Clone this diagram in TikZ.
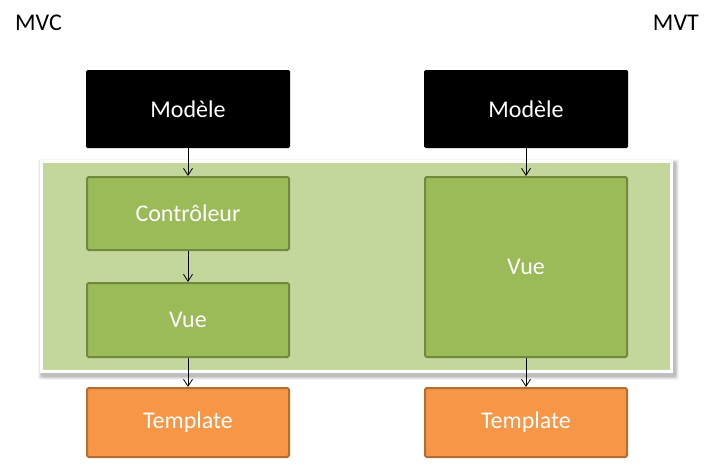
\documentclass[tikz,border=0pt]{standalone}
\usepackage{fontspec}
\setmainfont{Carlito}
\usetikzlibrary{arrows.meta}
\definecolor{band}{HTML}{C3D69B}
\definecolor{gfill}{HTML}{9BBB59}
\definecolor{gdraw}{HTML}{71893F}
\definecolor{ofill}{HTML}{F79646}
\definecolor{odraw}{HTML}{B66D31}
\tikzset{
  box/.style={rectangle, rounded corners=1.5pt, minimum width=202pt, text=white,
    font=\fontsize{24}{28}\selectfont, inner sep=0pt},
  blackbox/.style={box, fill=black, minimum width=204pt},
  greenbox/.style={box, fill=gfill, draw=gdraw, line width=2pt},
  orangebox/.style={box, fill=ofill, draw=odraw, line width=2pt},
  title/.style={font=\fontsize{24}{28}\selectfont, text=black, inner sep=0pt},
  conn/.style={-{Straight Barb[length=7pt,width=9pt]}, line width=0.8pt, black}
}
\begin{document}
\begin{tikzpicture}[x=1pt,y=-1pt]
\useasboundingbox (0,0) rectangle (719,464);
% band shadow
\foreach \o/\a in {4/0.04,3/0.06,2/0.08,1/0.1}{
  \fill[black,opacity=\a,rounded corners=2pt] (40-\o+2,160-\o+3) rectangle (673+\o+2,373+\o+3);
}
\fill[white] (40,160) rectangle (673,373);
\fill[band] (43,163) rectangle (670,370);
% titles
\node[title, anchor=base west] (mvc) at (15,30) {MVC};
\node[title, anchor=base east] (mvt) at (699,30) {MVT};
% left column
\node[blackbox, minimum height=78pt] (m1) at (188,109) {Modèle};
\node[greenbox, minimum height=73pt] (c1) at (188,213.5) {Contrôleur};
\node[greenbox, minimum height=74pt] (v1) at (188,320) {Vue};
\node[orangebox, minimum height=69pt] (t1) at (188,422.5) {Template};
% right column
\node[blackbox, minimum height=78pt] (m2) at (526,109) {Modèle};
\node[greenbox, minimum height=180pt] (v2) at (526,267) {Vue};
\node[orangebox, minimum height=69pt] (t2) at (526,422.5) {Template};
% connectors
\draw[conn] (m1) -- (c1);
\draw[conn] (c1) -- (v1);
\draw[conn] (v1) -- (t1);
\draw[conn] (m2) -- (v2);
\draw[conn] (v2) -- (t2);
\end{tikzpicture}
\end{document}
